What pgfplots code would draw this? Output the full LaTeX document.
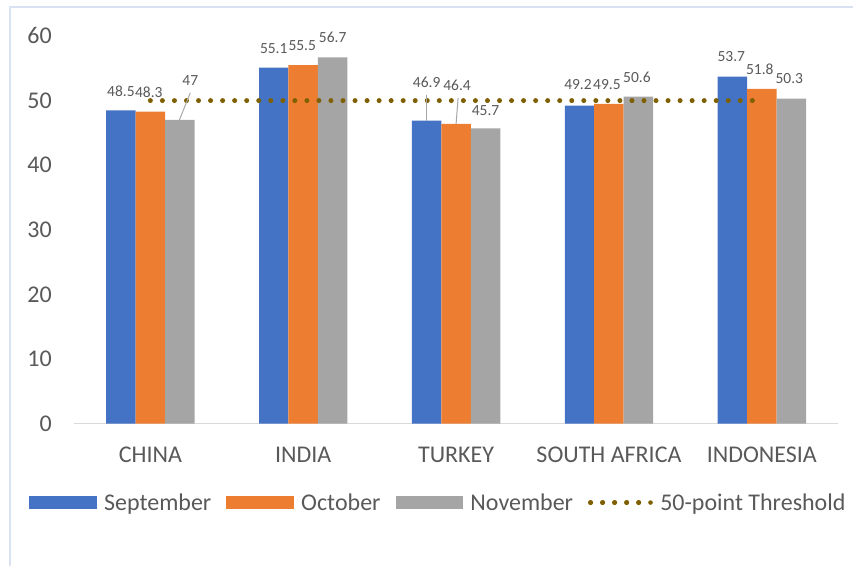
\documentclass[border=0pt]{standalone}
\usepackage{fontspec}
\setmainfont{Carlito}
\usepackage{pgfplots}
\usepackage{pgfplotstable}
\pgfplotsset{compat=1.18}

\definecolor{sepblue}{HTML}{4472C4}
\definecolor{octorange}{HTML}{ED7D31}
\definecolor{novgray}{HTML}{A5A5A5}
\definecolor{thresh}{HTML}{7F6000}
\definecolor{txt}{HTML}{595959}
\definecolor{axisgray}{HTML}{D9D9D9}
\definecolor{frame}{HTML}{D9E2F3}
\definecolor{leader}{HTML}{A6A6A6}

% x = category index, y = value, dx/dy = label offset (pt)
\pgfplotstableread{
x y dx dy
0 48.5 0 0
1 55.1 0 0
2 46.9 0 18.5
3 49.2 -1.5 1.5
4 53.7 -1 1
}\sept
\pgfplotstableread{
x y dx dy
0 48.3 -1.5 0
1 55.5 -1 0
2 46.4 1 19.5
3 49.5 -2 0
4 51.8 -2 0.5
}\octo
\pgfplotstableread{
x y dx dy
0 47 10.5 20
1 56.7 0 0
2 45.7 0 -2
3 50.6 -1.5 0
4 50.3 -2 1
}\nove
\pgfplotstableread{
x y
0 50
4 50
}\threshold

\pgfplotsset{
  barlabels/.style={
    nodes near coords,
    visualization depends on={\thisrow{dx}\as\ldx},
    visualization depends on={\thisrow{dy}\as\ldy},
    every node near coord/.append style={anchor=center, inner sep=0pt,
      text=txt, font=\fontsize{15.5}{18}\selectfont,
      xshift={(#1+\ldx)*1pt}, yshift={(19.5+\ldy)*1pt}},
  },
  barlegend/.style={legend image code/.code={%
    \fill[##1] (0pt,-6.5pt) rectangle (68pt,6.5pt);}},
}

\begin{document}
\begin{tikzpicture}
\begin{axis}[
    scale only axis,
    width=765pt, height=388pt,
    xmin=-0.5, xmax=4.5,
    ymin=0, ymax=60,
    xtick={0,...,4},
    xticklabels={CHINA,INDIA,TURKEY,SOUTH AFRICA,INDONESIA},
    ytick={0,10,...,60},
    major tick length=0pt,
    axis x line*=bottom,
    axis y line*=left,
    x axis line style={draw=axisgray, line width=1.5pt},
    y axis line style={draw=none},
    clip=false,
    /pgf/number format/assume math mode=true,
    tick label style={font=\fontsize{24}{28}\selectfont, text=txt},
    xticklabel style={anchor=base, inner sep=0pt, yshift=-39pt},
    yticklabel style={anchor=east, inner sep=0pt, xshift=-22pt},
    legend columns=4,
    legend style={at={(axis description cs:0,0)}, anchor=west,
      xshift=-45pt, yshift=-79pt, draw=none, fill=none, inner sep=0pt,
      font=\fontsize{24}{28}\selectfont, text=txt,
      nodes={inner sep=0pt},
      /tikz/every odd column/.append style={column sep=7pt},
      /tikz/every even column/.append style={column sep=15pt},
      /tikz/column 6/.append style={column sep=11pt},
      /tikz/column 7/.append style={column sep=3pt}},
]
\addplot[ybar, bar width=29.5pt, bar shift=-29.5pt, fill=sepblue, draw=none,
  barlabels=-29.5, barlegend] table {\sept};
\addlegendentry{September}
\addplot[ybar, bar width=29.5pt, bar shift=0pt, fill=octorange, draw=none,
  barlabels=0, barlegend] table {\octo};
\addlegendentry{October}
\addplot[ybar, bar width=29.5pt, bar shift=29.5pt, fill=novgray, draw=none,
  barlabels=29.5, barlegend] table {\nove};
\addlegendentry{November}
\addplot[sharp plot, color=thresh, line width=5pt, line cap=round,
  dash pattern=on 0pt off 12.05pt,
  legend image code/.code={%
    \path (0pt,0pt) -- (60pt,0pt);
    \draw[thresh, line width=4.6pt, line cap=round, dash pattern=on 0pt off 12pt]
      (0pt,0pt) -- (60.5pt,0pt);}] table {\threshold};
\addlegendentry{50-point Threshold}

% leader lines for the moved labels
\draw[leader, line width=1pt] (axis cs:0.261,51.2) -- (axis cs:0.190,47);
\draw[leader, line width=1pt] (axis cs:1.804,50.9) -- (axis cs:1.804,46.9);
\draw[leader, line width=1pt] (axis cs:2.013,50.4) -- (axis cs:2.0,46.4);
\end{axis}
\draw[frame, line width=1.5pt]
  ([xshift=-64pt,yshift=-143pt]current axis.south west)
  -- ([xshift=-64pt,yshift=29pt]current axis.north west)
  -- ([xshift=15pt,yshift=29pt]current axis.north east);
\path[use as bounding box]
  ([xshift=-74pt,yshift=-143pt]current axis.south west)
  rectangle ([xshift=15pt,yshift=36pt]current axis.north east);
\end{tikzpicture}
\end{document}
